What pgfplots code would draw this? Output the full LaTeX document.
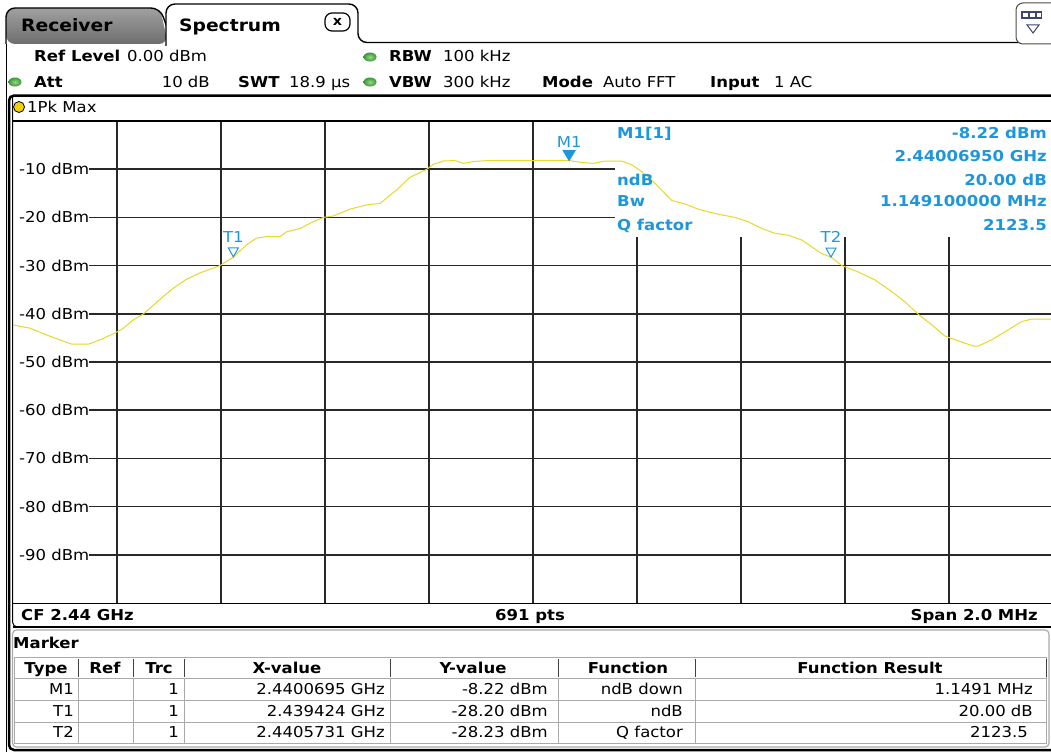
\documentclass[border=0pt]{standalone}
\usepackage{pgfplots}
\pgfplotsset{compat=1.18}
\usepackage{fontspec}
\setmainfont{DejaVu Sans}[FakeStretch=1.1]
\definecolor{trace}{RGB}{232,216,40}
\definecolor{mblue}{RGB}{30,150,220}
\definecolor{dotin}{RGB}{150,215,130}
\definecolor{dotout}{RGB}{60,150,60}
\definecolor{gridc}{RGB}{40,40,40}
\definecolor{tblgray}{RGB}{170,170,170}
\definecolor{tabtop}{RGB}{160,160,160}
\definecolor{tabbot}{RGB}{110,110,110}
\definecolor{icon}{RGB}{60,70,110}
\definecolor{ydot}{RGB}{240,210,0}
\newcommand{\fs}{\fontsize{15}{18}\selectfont}
\pgfdeclareplotmark{mdown}{%
  \pgfpathmoveto{\pgfqpoint{0pt}{0pt}}%
  \pgfpathlineto{\pgfqpoint{-6pt}{10pt}}%
  \pgfpathlineto{\pgfqpoint{6pt}{10pt}}%
  \pgfpathclose
  \pgfusepathqfillstroke}
\pgfdeclareplotmark{tdown}{%
  \pgfpathmoveto{\pgfqpoint{0pt}{0pt}}%
  \pgfpathlineto{\pgfqpoint{-5pt}{9pt}}%
  \pgfpathlineto{\pgfqpoint{5pt}{9pt}}%
  \pgfpathclose
  \pgfusepathqstroke}
\begin{document}
\begin{tikzpicture}[x=1pt,y=-1pt,
  t/.style={inner sep=0pt, anchor=base west, font=\fs},
  tb/.style={inner sep=0pt, anchor=base west, font=\fs\bfseries},
  te/.style={inner sep=0pt, anchor=base east, font=\fs},
  teb/.style={inner sep=0pt, anchor=base east, font=\fs\bfseries},
  tc/.style={inner sep=0pt, anchor=base, font=\fs},
  tcb/.style={inner sep=0pt, anchor=base, font=\fs\bfseries},
  gdot/.style={inner color=dotin, outer color=dotout}]
\useasboundingbox (0,0) rectangle (1051,752);
\fill[white] (0,0) rectangle (1051,752);

% ---------- tabs ----------
\shade[top color=tabtop, bottom color=tabbot, rounded corners=9pt]
  (6,44) -- (6,8) -- (160,8) -- (168,44) -- cycle;
\draw[line width=1.4pt, rounded corners=9pt] (6,44) -- (6,8) -- (160,8) -- (168,30);
\draw[line width=1.4pt, rounded corners=9pt, fill=white] (166,46) -- (166,4) -- (358,4) -- (358,42.5) -- (1070,42.5);
\node[inner sep=0pt, anchor=base west, font=\fontsize{17}{20}\selectfont\bfseries] at (21,32) {Receiver};
\node[inner sep=0pt, anchor=base west, font=\fontsize{17}{20}\selectfont\bfseries] at (179,32) {Spectrum};
\draw[line width=1.2pt, rounded corners=7pt] (325,13) rectangle (350,31);
\node[inner sep=0pt, font=\fontsize{13}{14}\selectfont\bfseries] at (337.5,21.5) {x};
% top-right icon
\draw[line width=1pt, draw=black!70, rounded corners=7pt, fill=white] (1016,3) rectangle (1070,44);
\fill[icon] (1021,11) rectangle (1042,19);
\fill[white] (1023,13) rectangle (1028,17);
\fill[white] (1030,13) rectangle (1035,17);
\fill[white] (1037,13) rectangle (1041,17);
\draw[line width=1pt, draw=icon] (1027,25) -- (1039,25) -- (1033,33) -- cycle;

% ---------- header rows ----------
\draw[line width=1pt] (6,44) -- (6,752);
\node[tb] at (34,62) {Ref Level};
\node[t] at (127,62) {0.00 dBm};
\shade[gdot] (370,57) ellipse (6.5pt and 4.5pt);
\node[tb] at (389,62) {RBW};
\node[t] at (443,62) {100 kHz};
\shade[gdot] (15,82) ellipse (6.5pt and 4.5pt);
\node[tb] at (34,87) {Att};
\node[te] at (210,87) {10 dB};
\node[tb] at (238,87) {SWT};
\node[t] at (289,87) {18.9 μs};
\shade[gdot] (370,82) ellipse (6.5pt and 4.5pt);
\node[tb] at (389,87) {VBW};
\node[t] at (443,87) {300 kHz};
\node[tb] at (542,87) {Mode};
\node[t] at (603,87) {Auto FFT};
\node[tb] at (710,87) {Input};
\node[t] at (774,87) {1 AC};

% ---------- spectrum ----------
\begin{axis}[
  at={(13pt,-603pt)}, anchor=south west,
  width=1040pt, height=482pt, scale only axis,
  xmin=-1, xmax=1, ymin=-100, ymax=0,
  xtick={-0.8,-0.6,-0.4,-0.2,0,0.2,0.4,0.6,0.8},
  xticklabels={{},{},{},{},{},{},{},{},{}},
  ytick={-90,-80,-70,-60,-50,-40,-30,-20,-10},
  yticklabels={\hspace*{6pt}-90 dBm,\hspace*{6pt}-80 dBm,\hspace*{6pt}-70 dBm,\hspace*{6pt}-60 dBm,\hspace*{6pt}-50 dBm,\hspace*{6pt}-40 dBm,\hspace*{6pt}-30 dBm,\hspace*{6pt}-20 dBm,\hspace*{6pt}-10 dBm},
  yticklabel style={anchor=west, inner xsep=0pt, inner ysep=1.5pt, fill=white, font=\fs, text=black},
  major tick length=0pt,
  grid=major, major grid style={draw=gridc, line width=1.5pt},
  axis line style={draw=black, line width=1pt},
]
\fill[white] (axis cs:0.158,-24.07) rectangle (axis cs:1.01,0);
\addplot[trace, line width=1pt, mark=none] coordinates {
(-1.000,-42.3) (-0.967,-43.0) (-0.935,-44.4) (-0.910,-45.4) (-0.887,-46.3)
(-0.855,-46.3) (-0.833,-45.4) (-0.804,-44.0) (-0.788,-43.0) (-0.769,-41.3)
(-0.749,-40.0) (-0.730,-38.2) (-0.711,-36.4) (-0.692,-34.7) (-0.666,-32.8)
(-0.640,-31.5) (-0.602,-30.0) (-0.576,-28.2) (-0.551,-25.7) (-0.532,-24.3)
(-0.512,-24.0) (-0.487,-24.0) (-0.474,-23.0) (-0.448,-22.3) (-0.423,-20.9)
(-0.403,-20.0) (-0.384,-19.7) (-0.352,-18.3) (-0.320,-17.4) (-0.294,-17.1)
(-0.275,-15.4) (-0.262,-14.3) (-0.237,-11.7) (-0.204,-10.0) (-0.192,-9.0)
(-0.172,-8.3) (-0.150,-8.2) (-0.134,-8.8) (-0.115,-8.4) (-0.083,-8.2)
(-0.022,-8.2) (0.0695,-8.22) (0.094,-8.6) (0.116,-8.8) (0.138,-8.3)
(0.171,-8.3) (0.190,-9.1) (0.209,-10.5) (0.228,-12.2) (0.247,-14.3)
(0.267,-16.5) (0.292,-17.2) (0.318,-18.3) (0.350,-19.2) (0.388,-20.0)
(0.414,-20.9) (0.440,-22.3) (0.465,-23.3) (0.491,-23.7) (0.517,-24.7)
(0.536,-26.1) (0.555,-27.5) (0.5731,-28.23) (0.594,-30.0) (0.625,-31.3)
(0.658,-33.0) (0.690,-35.4) (0.715,-37.5) (0.741,-40.1) (0.767,-42.3)
(0.792,-44.6) (0.818,-45.6) (0.847,-46.7) (0.856,-46.7) (0.882,-45.4)
(0.908,-43.7) (0.940,-41.6) (0.959,-41.1) (1.000,-41.1)
};
\addplot[only marks, mark=mdown, draw=mblue, fill=mblue, line width=0.8pt,
  nodes near coords, point meta=explicit symbolic,
  every node near coord/.style={anchor=center, yshift=19pt, text=mblue, font=\fs, inner sep=0pt}]
  coordinates {(0.0695,-8.22) [M1]};
\addplot[only marks, mark=tdown, draw=mblue, line width=1pt,
  nodes near coords, point meta=explicit symbolic,
  every node near coord/.style={anchor=center, yshift=20pt, text=mblue, font=\fs, inner sep=0pt}]
  coordinates {(-0.5762,-28.20) [T1] (0.5731,-28.23) [T2]};
\end{axis}

% ---------- info box ----------
\begin{scope}[every node/.append style={text=mblue}]
\node[tb] at (617,138) {M1[1]};
\node[tb] at (617,185) {ndB};
\node[tb] at (617,206) {Bw};
\node[tb] at (617,230) {Q factor};
\node[teb] at (1047,138) {-8.22 dBm};
\node[teb] at (1047,161) {2.44006950 GHz};
\node[teb] at (1047,185) {20.00 dB};
\node[teb] at (1047,206) {1.149100000 MHz};
\node[teb] at (1047,230) {2123.5};
\end{scope}

% ---------- frames ----------
\draw[line width=2.5pt, rounded corners=5pt] (1070,95.5) -- (9,95.5) -- (9,750) -- (1070,750);
\draw[line width=1pt, rounded corners=5pt] (12.5,96) -- (12.5,627) -- (1070,627);
\draw[line width=1.8pt] (12.5,627) -- (1070,627);
\draw[line width=2pt] (12.5,121) -- (1070,121);
\fill[ydot, draw=black, line width=0.8pt] (19,107) circle (5.5pt);
\node[t] at (27,112.3) {1Pk Max};

% bottom status
\node[tb] at (21,620.5) {CF 2.44 GHz};
\node[tcb] at (530,620.5) {691 pts};
\node[teb] at (1038,620.5) {Span 2.0 MHz};

% ---------- marker table ----------
\draw[tblgray, line width=1.2pt, rounded corners=4pt] (12.5,630) rectangle (1049,747);
\node[tb] at (13,648) {Marker};
\draw[tblgray, line width=1pt] (14,657) rectangle (1046,743);
\foreach \yy in {678.5,700,722} \draw[tblgray, line width=1pt] (14,\yy) -- (1046,\yy);
\foreach \xx in {78,133,184,390,558,695} {
  \draw[tblgray, line width=1pt] (\xx,678.5) -- (\xx,743);
  \draw[black!75, line width=1pt] (\xx,659) -- (\xx,677);
}
\draw[black!75, line width=1pt] (1046,659) -- (1046,677);
\node[tcb] at (46,673) {Type};
\node[tcb] at (105,673) {Ref};
\node[tcb] at (159,673) {Trc};
\node[tcb] at (287,673) {X-value};
\node[tcb] at (473,673) {Y-value};
\node[tcb] at (628,673) {Function};
\node[tcb] at (870,673) {Function Result};
% rows
\node[te] at (74,694.3) {M1};
\node[te] at (179,694.3) {1};
\node[te] at (385,694.3) {2.4400695 GHz};
\node[te] at (548,694.3) {-8.22 dBm};
\node[te] at (683,694.3) {ndB down};
\node[te] at (1033,694.3) {1.1491 MHz};
\node[te] at (74,716.3) {T1};
\node[te] at (179,716.3) {1};
\node[te] at (385,716.3) {2.439424 GHz};
\node[te] at (548,716.3) {-28.20 dBm};
\node[te] at (683,716.3) {ndB};
\node[te] at (1033,716.3) {20.00 dB};
\node[te] at (74,737.8) {T2};
\node[te] at (179,737.8) {1};
\node[te] at (385,737.8) {2.4405731 GHz};
\node[te] at (548,737.8) {-28.23 dBm};
\node[te] at (683,737.8) {Q factor};
\node[te] at (1028,737.8) {2123.5};
\end{tikzpicture}
\end{document}
